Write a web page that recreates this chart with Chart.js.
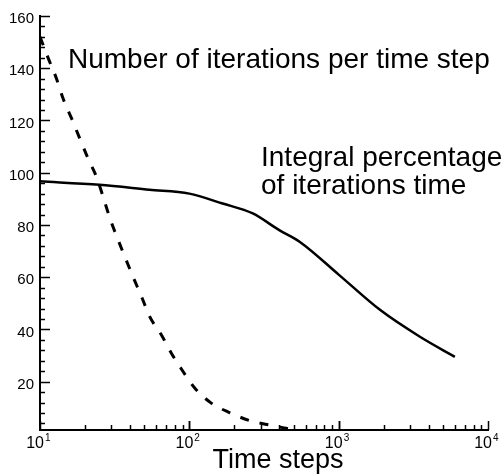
<!DOCTYPE html>
<html>
<head>
<meta charset="utf-8">
<script src="https://cdn.jsdelivr.net/npm/chart.js@4/dist/chart.umd.min.js"></script>
<style>
  html, body { margin: 0; padding: 0; background: #fff; }
</style>
</head>
<body>
<canvas id="grafico" width="504" height="475"></canvas>
<script>
// Curva continua: porcentaje integral del tiempo de iteraciones
const pasosPct = [10, 25, 54, 100, 167, 266, 400, 550, 1000, 1900, 3500, 6000];
const valoresPct = [96.7, 95.4, 93.5, 92, 88.2, 84.4, 78, 73.5, 61, 47.4, 37.2, 29.5];

// Curva discontinua: numero de iteraciones por paso de tiempo
const pasosIter = [10, 11.4, 12.9, 14.3, 16.3, 18.5, 21, 23.9, 26.5, 29.4, 33.4, 37, 42, 47.9,
                   54.4, 65.2, 76, 91, 109, 141, 187, 254, 345, 422, 470];
const valoresIter = [152, 143.6, 136, 128.3, 120.7, 113, 105.4, 98.4, 90.7, 82.5, 74.2, 67.8, 60.1, 52.5,
                     44.8, 37.8, 30.8, 23.8, 17.5, 11.7, 8.1, 5.1, 3.4, 2.4, 1.9];

// Etiquetas de los ejes
const ticksX = [10, 100, 1000, 10000];
const exponentesX = ["1", "2", "3", "4"];
const ticksY = [20, 40, 60, 80, 100, 120, 140, 160];

const fuente = '"Liberation Sans", Arial, sans-serif';

function puntos(xs, ys) {
    return xs.map((x, i) => ({ x: x, y: ys[i] }));
}

// Marcas hacia dentro, etiquetas 10^n y textos sobre el grafico
const marcas = {
    id: "marcas",
    afterDraw(chart) {
        const ctx = chart.ctx;
        const a = chart.chartArea;
        const ex = chart.scales.x;
        const ey = chart.scales.y;
        ctx.save();
        ctx.strokeStyle = "#000";
        ctx.lineWidth = 1.5;

        for (let v = 4; v <= 160; v += 4) {
            const py = Math.round(ey.getPixelForValue(v)) + 0.5;
            const largo = v % 20 === 0 ? 10 : 5;
            ctx.beginPath();
            ctx.moveTo(a.left, py);
            ctx.lineTo(a.left + largo, py);
            ctx.stroke();
        }

        for (let d = 10; d < 10000; d *= 10) {
            for (let k = 1; k <= 10; k++) {
                const px = Math.round(ex.getPixelForValue(d * k)) + 0.5;
                const largo = (k === 1 || k === 10) ? 9 : 5;
                ctx.beginPath();
                ctx.moveTo(px, a.bottom);
                ctx.lineTo(px, a.bottom - largo);
                ctx.stroke();
            }
        }

        ctx.fillStyle = "#000";
        ctx.textBaseline = "alphabetic";
        ticksX.forEach((v, i) => {
            const px = ex.getPixelForValue(v);
            ctx.font = "16px " + fuente;
            ctx.textAlign = "right";
            ctx.fillText("10", px + 4, a.bottom + 18);
            ctx.font = "10px " + fuente;
            ctx.textAlign = "left";
            ctx.fillText(exponentesX[i], px + 5, a.bottom + 11);
        });

        ctx.font = "28px " + fuente;
        ctx.textAlign = "left";
        ctx.fillText("Number of iterations per time step", 68, 68);
        ctx.fillText("Integral percentage", 261, 166);
        ctx.fillText("of iterations time", 261, 194);

        ctx.font = "27px " + fuente;
        ctx.textAlign = "center";
        ctx.fillText("Time steps", 278, 468);
        ctx.restore();
    }
};

new Chart(document.getElementById("grafico"), {
    type: "line",
    data: {
        datasets: [{
            label: "Integral percentage of iterations time",
            data: puntos(pasosPct, valoresPct),
            borderColor: "#000",
            borderWidth: 2.5,
            pointRadius: 0,
            fill: false,
            cubicInterpolationMode: "monotone"
        }, {
            label: "Number of iterations per time step",
            data: puntos(pasosIter, valoresIter),
            borderColor: "#000",
            borderWidth: 3,
            borderDash: [9, 11],
            pointRadius: 0,
            fill: false,
            cubicInterpolationMode: "monotone"
        }]
    },
    options: {
        responsive: false,
        animation: false,
        layout: { padding: { top: 16, right: 16, left: 0, bottom: 0 } },
        plugins: {
            legend: { display: false },
            tooltip: { enabled: false }
        },
        scales: {
            x: {
                type: "logarithmic",
                min: 10,
                max: 10000,
                grid: { display: false, drawTicks: false },
                border: { display: true, color: "#000", width: 2 },
                afterBuildTicks(scale) {
                    scale.ticks = ticksX.map(v => ({ value: v }));
                },
                afterFit(scale) { scale.height = 45; },
                ticks: { display: false }
            },
            y: {
                type: "linear",
                min: 1.5,
                max: 160,
                grid: { display: false, drawTicks: false },
                border: { display: true, color: "#000", width: 2 },
                afterBuildTicks(scale) {
                    scale.ticks = ticksY.map(v => ({ value: v }));
                },
                afterFit(scale) { scale.width = 40; },
                ticks: {
                    color: "#000",
                    font: { family: fuente, size: 15 },
                    padding: 6,
                    labelOffset: 3,
                    autoSkip: false
                }
            }
        }
    },
    plugins: [marcas]
});
</script>
</body>
</html>
